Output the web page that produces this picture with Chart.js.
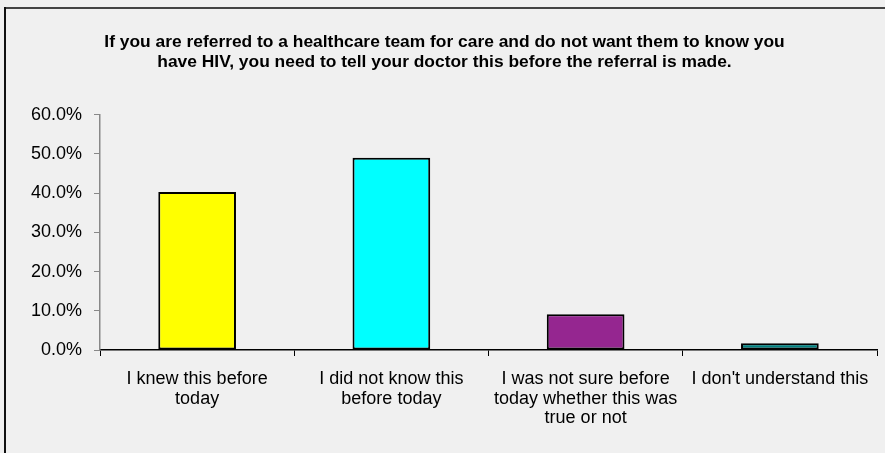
<!DOCTYPE html>
<html>
<head>
<meta charset="utf-8">
<script src="https://cdn.jsdelivr.net/npm/chart.js@4/dist/chart.umd.min.js"></script>
<style>
  html, body { margin: 0; padding: 0; background: #f0f0f0; }
  canvas { display: block; }
</style>
</head>
<body>
<canvas id="chart" width="885" height="453"></canvas>
<script>
// Chart data
const categories = [
  ['I knew this before', 'today'],
  ['I did not know this', 'before today'],
  ['I was not sure before', 'today whether this was', 'true or not'],
  ["I don't understand this"]
];
const percentValues = [40.3, 49.0, 9.1, 1.7];
const barColors = ['#ffff00', '#00ffff', '#952690', '#008080'];
const titleLines = [
  'If you are referred to a healthcare team for care and do not want them to know you',
  'have HIV, you need to tell your doctor this before the referral is made.'
];

const FONT = "'Liberation Sans', Arial, sans-serif";

// Grey panel with the dark frame on top and left
const framePlugin = {
  id: 'frame',
  beforeDraw: (chart) => {
    const ctx = chart.ctx;
    ctx.save();
    ctx.fillStyle = '#f0f0f0';
    ctx.fillRect(0, 0, chart.width, chart.height);
    ctx.fillStyle = '#444';
    ctx.fillRect(4, 7, chart.width - 4, 2);
    ctx.fillStyle = '#111';
    ctx.fillRect(4, 7, 2, chart.height - 7);
    ctx.restore();
  }
};

new Chart(document.getElementById('chart'), {
  type: 'bar',
  data: {
    labels: categories,
    datasets: [{
      data: percentValues,
      backgroundColor: barColors,
      borderColor: '#000',
      borderWidth: 2,
      borderSkipped: false,
      barPercentage: 0.4,
      categoryPercentage: 1.0
    }]
  },
  options: {
    responsive: false,
    animation: false,
    layout: { padding: { left: 12, right: 8, top: 0, bottom: 0 } },
    plugins: {
      legend: { display: false },
      tooltip: { enabled: false },
      title: {
        display: true,
        text: titleLines,
        color: '#000',
        font: { family: FONT, size: 17.4, weight: 'bold', lineHeight: 1.17 },
        padding: { top: 32, bottom: 42 }
      }
    },
    scales: {
      x: {
        afterFit: (s) => { s.height = 103; },
        grid: {
          offset: true,
          drawOnChartArea: false,
          color: '#000',
          tickLength: 6
        },
        border: { color: '#000', width: 1.5 },
        ticks: {
          color: '#000',
          maxRotation: 0,
          autoSkip: false,
          padding: 13,
          font: { family: FONT, size: 18, lineHeight: 1.1 }
        }
      },
      y: {
        min: 0,
        max: 60,
        afterFit: (s) => { s.width = 88; },
        grid: {
          drawOnChartArea: false,
          color: '#888',
          tickLength: 6
        },
        border: { color: '#888', width: 1.5 },
        ticks: {
          stepSize: 10,
          color: '#000',
          padding: 12,
          font: { family: FONT, size: 18 },
          callback: (v) => v.toFixed(1) + '%'
        }
      }
    }
  },
  plugins: [framePlugin]
});
</script>
</body>
</html>
